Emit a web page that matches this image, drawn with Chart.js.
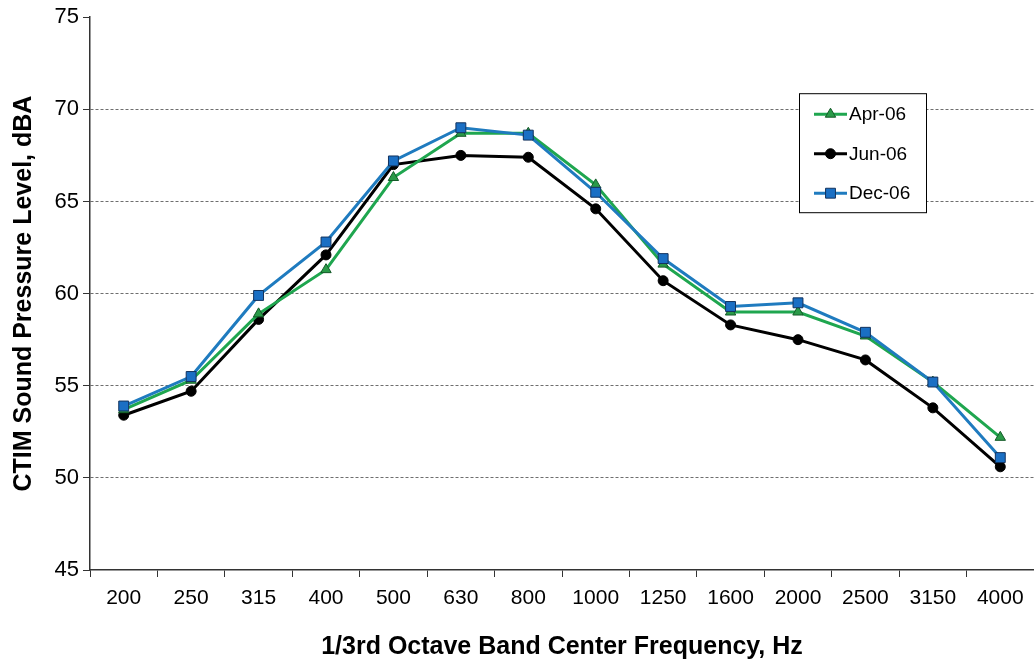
<!DOCTYPE html>
<html>
<head>
<meta charset="utf-8">
<script src="https://cdn.jsdelivr.net/npm/chart.js@4/dist/chart.umd.min.js"></script>
<style>
  html, body { margin: 0; padding: 0; background: #fff; }
  #wrap { width: 1034px; height: 666px; }
</style>
</head>
<body>
<div id="wrap"><canvas id="spl"></canvas></div>
<script>
// 1/3 octave band centre frequencies (Hz)
const freqs = ["200", "250", "315", "400", "500", "630", "800", "1000", "1250", "1600", "2000", "2500", "3150", "4000"];

// sound pressure level, dBA
const apr06 = [53.7, 55.3, 58.9, 61.3, 66.3, 68.7, 68.7, 65.9, 61.6, 59.0, 59.0, 57.7, 55.2, 52.2];
const jun06 = [53.4, 54.7, 58.6, 62.1, 67.0, 67.5, 67.4, 64.6, 60.7, 58.3, 57.5, 56.4, 53.8, 50.6];
const dec06 = [53.9, 55.5, 59.9, 62.8, 67.2, 69.0, 68.6, 65.5, 61.9, 59.3, 59.5, 57.9, 55.2, 51.1];

const seriesNames = ["Apr-06", "Jun-06", "Dec-06"];

Chart.defaults.font.family = "'Liberation Sans', Arial, sans-serif";
Chart.defaults.color = "#000";

// legend box drawn inside the plot, like the original
const boxLegend = {
  id: "boxLegend",
  afterDraw(chart) {
    const ctx = chart.ctx;
    const area = chart.chartArea;
    const x0 = area.left + 709, y0 = area.top + 76;
    const w = 127, h = 119;
    ctx.save();
    ctx.fillStyle = "#fff";
    ctx.fillRect(x0, y0, w, h);
    ctx.strokeStyle = "#000";
    ctx.lineWidth = 1;
    ctx.strokeRect(x0 + 0.5, y0 + 0.5, w, h);
    chart.data.datasets.forEach((ds, i) => {
      const y = y0 + 21 + i * 39.5;
      ctx.strokeStyle = ds.borderColor;
      ctx.lineWidth = 3;
      ctx.beginPath();
      ctx.moveTo(x0 + 15, y);
      ctx.lineTo(x0 + 48, y);
      ctx.stroke();
      ctx.fillStyle = ds.pointBackgroundColor;
      ctx.strokeStyle = ds.pointBorderColor;
      ctx.lineWidth = 1;
      Chart.helpers.drawPoint(ctx, {
        pointStyle: ds.pointStyle,
        radius: ds.pointRadius,
        borderWidth: 1
      }, x0 + 31.5, y);
      ctx.font = "19px 'Liberation Sans', Arial, sans-serif";
      ctx.textBaseline = "middle";
      ctx.fillStyle = "#000";
      ctx.fillText(ds.label, x0 + 50, y + 1);
    });
    ctx.restore();
  }
};

new Chart("spl", {
  type: "line",
  data: {
    labels: freqs,
    datasets: [
      {
        label: seriesNames[0],
        data: apr06,
        borderColor: "#1fa64f",
        borderWidth: 3,
        pointStyle: "triangle",
        pointRadius: 6,
        pointBackgroundColor: "#2a9a48",
        pointBorderColor: "#145a28",
        pointBorderWidth: 1,
        tension: 0,
        order: 1
      },
      {
        label: seriesNames[1],
        data: jun06,
        borderColor: "#000",
        borderWidth: 3,
        pointStyle: "circle",
        pointRadius: 5,
        pointBackgroundColor: "#000",
        pointBorderColor: "#000",
        pointBorderWidth: 1,
        tension: 0,
        order: 2
      },
      {
        label: seriesNames[2],
        data: dec06,
        borderColor: "#1f7bbf",
        borderWidth: 3,
        pointStyle: "rect",
        pointRadius: 7,
        pointBackgroundColor: "#1a6fc4",
        pointBorderColor: "#13335e",
        pointBorderWidth: 1,
        tension: 0,
        order: 0
      }
    ]
  },
  options: {
    responsive: true,
    maintainAspectRatio: false,
    animation: false,
    layout: { autoPadding: false, padding: { top: 16, right: 0, left: 0, bottom: 0 } },
    plugins: {
      legend: { display: false },
      tooltip: { enabled: false }
    },
    scales: {
      x: {
        offset: true,
        afterFit(scale) { scale.height = 96; },
        grid: {
          offset: true,
          drawOnChartArea: false,
          drawTicks: true,
          tickLength: 7,
          tickColor: "#333",
          tickWidth: 1
        },
        border: { color: "#333", width: 1.5 },
        ticks: {
          font: { size: 21 },
          padding: 9,
          maxRotation: 0,
          autoSkip: false
        },
        title: {
          display: true,
          text: "1/3rd Octave Band Center Frequency, Hz",
          font: { size: 25, weight: "bold" },
          padding: { top: 0, bottom: 4 }
        }
      },
      y: {
        min: 45,
        max: 75,
        afterFit(scale) { scale.width = 90; },
        grid: {
          color(ctx) {
            const v = ctx.tick ? ctx.tick.value : null;
            return (v === 45 || v === 75) ? "rgba(0,0,0,0)" : "#6e6e6e";
          },
          lineWidth: 1,
          tickLength: 7,
          tickColor: "#333",
          tickBorderDash: [],
          drawTicks: true
        },
        border: { color: "#333", width: 1.5, dash: [3, 2] },
        ticks: {
          stepSize: 5,
          font: { size: 22 },
          padding: 4
        },
        title: {
          display: true,
          text: "CTIM Sound Pressure Level, dBA",
          font: { size: 25, weight: "bold" },
          padding: { top: 9, bottom: 0 }
        }
      }
    }
  },
  plugins: [boxLegend]
});
</script>
</body>
</html>
